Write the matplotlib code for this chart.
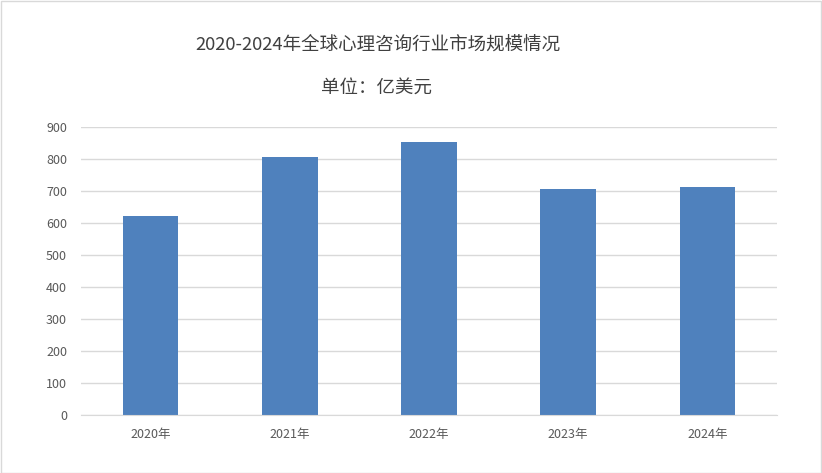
import matplotlib
matplotlib.use("Agg")
import matplotlib.pyplot as plt
from matplotlib.patches import Rectangle

plt.rcParams['font.family'] = ['Noto Sans CJK SC', 'DejaVu Sans']

years = ["2020年", "2021年", "2022年", "2023年", "2024年"]
values = [622, 806, 853, 706, 712]
title = "2020-2024年全球心理咨询行业市场规模情况"
subtitle = "单位：亿美元"

W, H = 822, 473
fig = plt.figure(figsize=(W / 100, H / 100), dpi=100)
ax = fig.add_axes([81 / W, 1 - 415 / H, (777 - 81) / W, (415 - 127) / H])

ax.bar(range(len(years)), values, width=0.4, color="#4F81BD", zorder=2)
ax.set_xlim(-0.5, len(years) - 0.5)
ax.set_ylim(0, 900)
ax.set_yticks(range(0, 901, 100))
ax.set_xticks(range(len(years)))
ax.set_xticklabels(years)
ax.grid(axis="y", color="#D9D9D9", linewidth=1, zorder=0)
for s in ["top", "right", "left"]:
    ax.spines[s].set_visible(False)
ax.spines["bottom"].set_color("#D9D9D9")
ax.tick_params(axis="both", length=0, labelsize=9, colors="#595959")
ax.tick_params(axis="x", pad=9)
ax.tick_params(axis="y", pad=10)

fig.text(378 / W, 1 - 45 / H, title, ha="center", va="center",
         fontsize=13.3, color="#404040")
fig.text(376 / W, 1 - 88 / H, subtitle, ha="center", va="center",
         fontsize=13.3, color="#404040")

fig.patches.append(Rectangle((0.5 / W, 0.5 / H), 1 - 1.5 / W, 1 - 1.5 / H,
                             transform=fig.transFigure, fill=False,
                             edgecolor="#D9D9D9", linewidth=1))

fig.savefig("out.png", dpi=100)
